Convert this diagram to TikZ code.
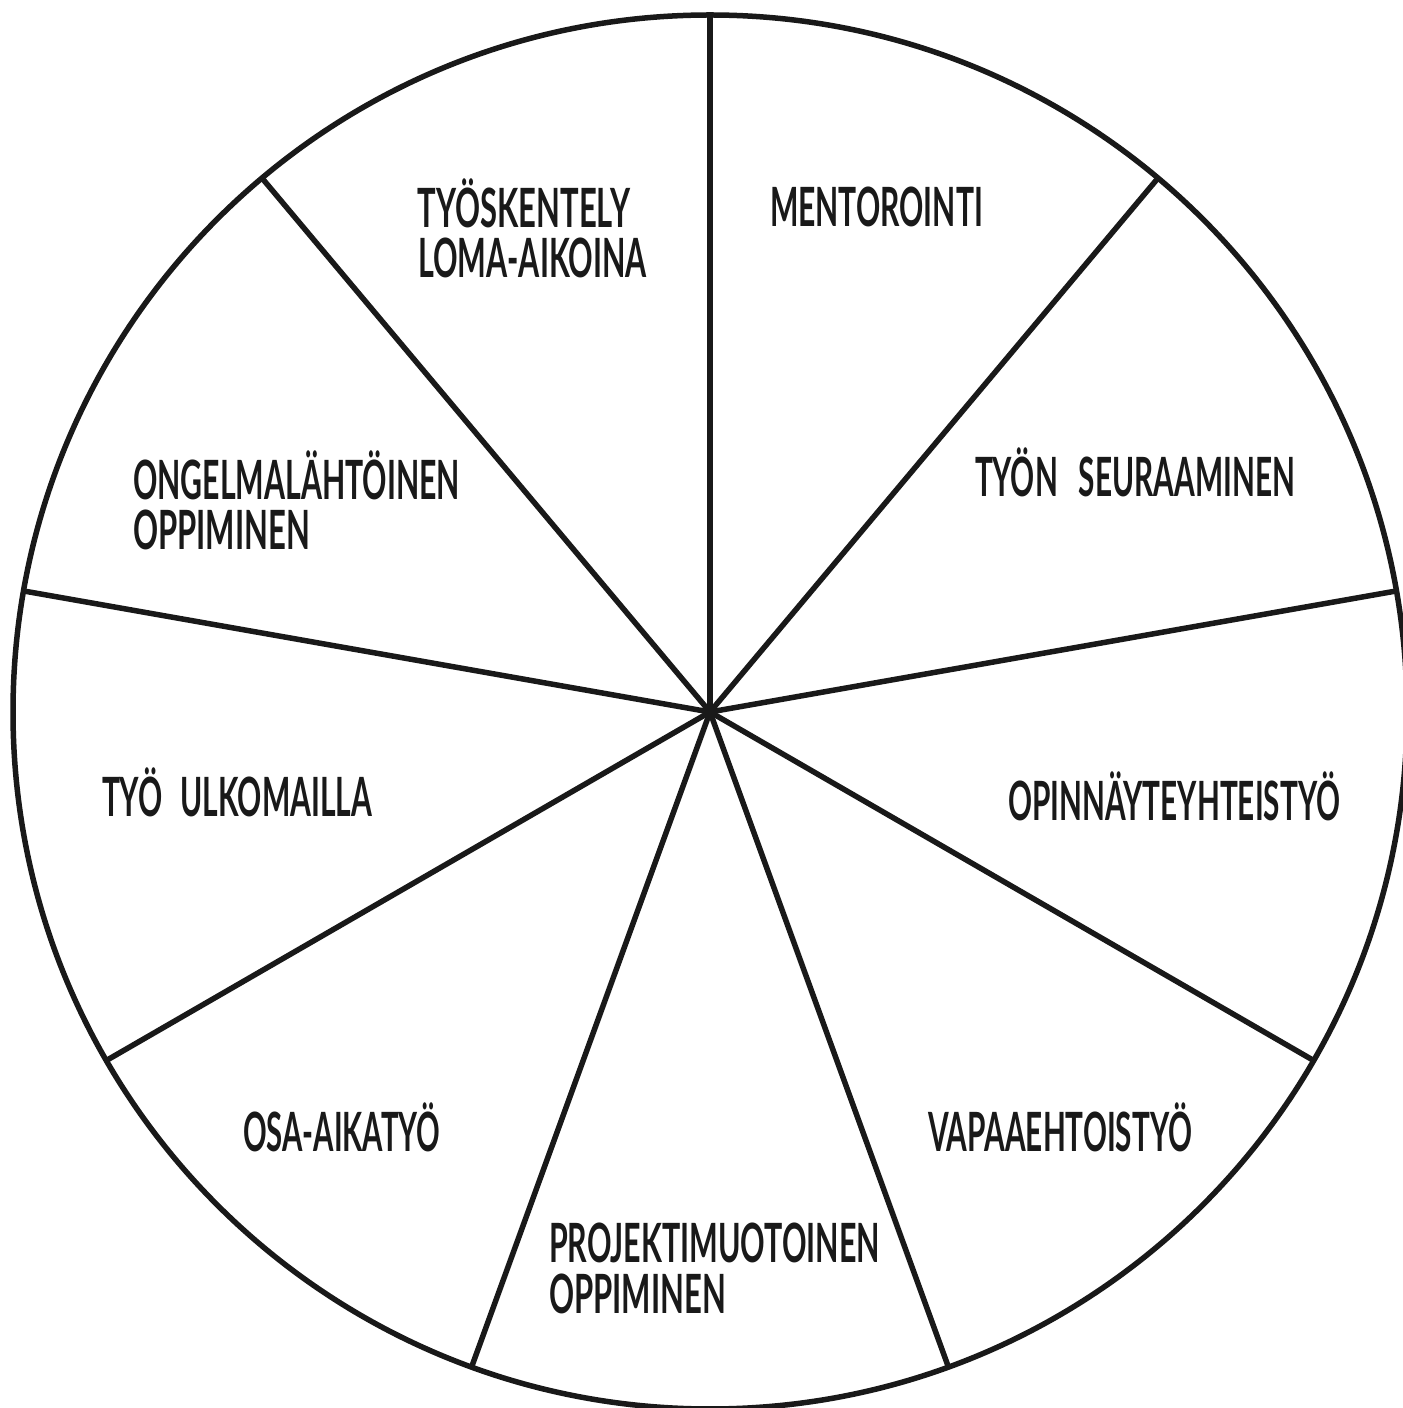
\documentclass[tikz,border=0pt]{standalone}
\usepackage{graphicx}
\usepackage{fontspec}
\newfontfamily\labfont{Lato}
\newsavebox\labbox
\newcommand\fitw[2]{\sbox\labbox{#2}\pgfmathsetmacro\fitsx{#1/\the\wd\labbox}\scalebox{\fitsx}[1]{\usebox\labbox}}
\tikzset{
  wheel/.style={line width=0.055cm, draw=black!90},
  lab/.style={anchor=base west, inner sep=0pt, outer sep=0pt, font=\labfont\bfseries\fontsize{15.4pt}{17pt}\selectfont, text=black!90}
}
\begin{document}
\begin{tikzpicture}
\useasboundingbox (0,0) rectangle (14.02,14.08);
\fill[white] (0,0) rectangle (14.02,14.08);
\coordinate (c) at (7.10,6.96);
\draw[wheel] (c) circle (6.97);
\foreach \a [count=\i] in {90,50,10,-30,-70,-110,-150,170,130}
  \coordinate (p\i) at ([shift={(\a:6.97)}]c);
\foreach \i in {1,...,9}
  \draw[wheel] (c) -- (p\i);
% labels (x = px/100, y = (1408 - baseline px)/100)
\node[lab] (l1a) at (4.18,11.80) {\fitw{2.12cm}{TYÖSKENTELY}};
\node[lab] (l1b) at (4.18,11.30) {\fitw{2.29cm}{LOMA-AIKOINA}};
\node[lab] (l2)  at (7.70,11.81) {\fitw{2.13cm}{MENTOROINTI}};
\node[lab] (l3)  at (9.75,9.11)  {\fitw{3.20cm}{TYÖN\hspace{0.7em}SEURAAMINEN}};
\node[lab] (l4a) at (1.33,9.08)  {\fitw{3.27cm}{ONGELMALÄHTÖINEN}};
\node[lab] (l4b) at (1.33,8.58)  {\fitw{1.77cm}{OPPIMINEN}};
\node[lab] (l5)  at (10.08,5.87) {\fitw{3.32cm}{OPINNÄYTEYHTEISTYÖ}};
\node[lab] (l6)  at (1.02,5.91)  {\fitw{2.70cm}{TYÖ\hspace{0.6em}ULKOMAILLA}};
\node[lab] (l7)  at (2.43,2.56)  {\fitw{1.97cm}{OSA-AIKATYÖ}};
\node[lab] (l8)  at (9.28,2.56)  {\fitw{2.64cm}{VAPAAEHTOISTYÖ}};
\node[lab] (l9a) at (5.49,1.45)  {\fitw{3.31cm}{PROJEKTIMUOTOINEN}};
\node[lab] (l9b) at (5.49,0.95)  {\fitw{1.77cm}{OPPIMINEN}};
\end{tikzpicture}
\end{document}
